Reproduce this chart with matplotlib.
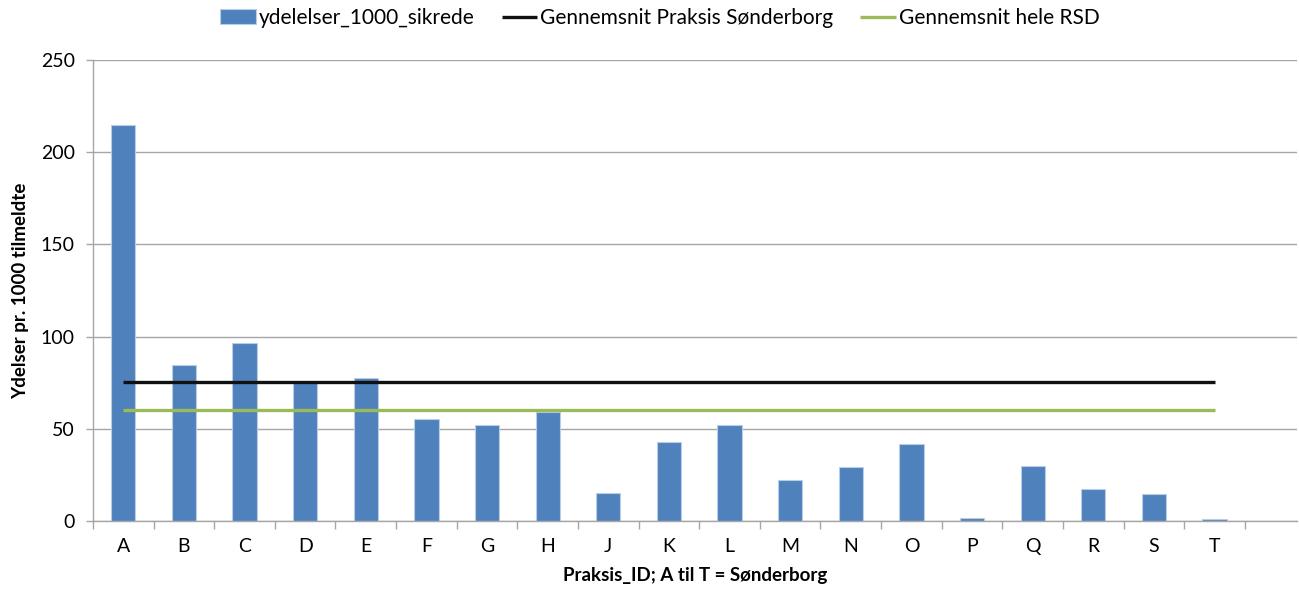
import numpy as np
import matplotlib.pyplot as plt

# data
praksis = ["A", "B", "C", "D", "E", "F", "G", "H", "J", "K",
           "L", "M", "N", "O", "P", "Q", "R", "S", "T"]
ydelser = [214.7, 84.6, 96.5, 75.2, 77.7, 55.3, 52.2, 59.3, 15.4, 43.0,
           51.9, 22.2, 29.5, 41.6, 1.6, 30.0, 17.5, 14.5, 0.9]
snit_sonderborg = 75.4
snit_rsd = 60.2
yticks = [0, 50, 100, 150, 200, 250]

plt.rcParams['font.family'] = ['Lato', 'DejaVu Sans']

fig = plt.figure(figsize=(12.99, 5.89), dpi=100)
ax = fig.add_axes([93/1299, 1-521/589, (1297-93)/1299, (521-60)/589])

x = np.arange(len(praksis))
gray = "#a6a6a6"

b = ax.bar(x, ydelser, width=0.4, color="#4f81bd", edgecolor="#b9cde5",
           linewidth=0.8, label="ydelelser_1000_sikrede", zorder=2)
l1 = ax.hlines(snit_sonderborg, x[0], x[-1], color="#111111", linewidth=2.4,
               label="Gennemsnit Praksis Sønderborg", zorder=3)
l2 = ax.hlines(snit_rsd, x[0], x[-1], color="#9bbb59", linewidth=2.4,
               label="Gennemsnit hele RSD", zorder=3)

ax.set_xlim(-0.5, 19.36)
ax.set_ylim(0, 250)
ax.set_yticks(yticks)
ax.yaxis.grid(True, color=gray, linewidth=1)
ax.set_axisbelow(True)

ax.set_xticks(x)
ax.set_xticklabels(praksis, fontsize=14)
ax.set_xticks(np.arange(-0.5, len(praksis)), minor=True)
ax.tick_params(axis="x", which="major", length=0, pad=12)
ax.tick_params(axis="x", which="minor", length=6, color=gray, width=1)
ax.tick_params(axis="y", length=5, color=gray, width=1, labelsize=14, pad=8)

for s in ["top", "right"]:
    ax.spines[s].set_visible(False)
for s in ["left", "bottom"]:
    ax.spines[s].set_color(gray)
    ax.spines[s].set_linewidth(1)

ax.set_ylabel("Ydelser pr. 1000 tilmeldte", fontsize=13.5, fontweight="bold")
ax.yaxis.set_label_coords(-0.053, 0.5)
ax.set_xlabel("Praksis_ID; A til T = Sønderborg", fontsize=13.5, fontweight="bold")
ax.xaxis.set_label_coords(0.5, -0.1)

fig.legend([b, l1, l2], ["ydelelser_1000_sikrede", "Gennemsnit Praksis Sønderborg",
                         "Gennemsnit hele RSD"],
           loc="center", bbox_to_anchor=(660/1299, 1-18/589), ncol=3,
           frameon=False, fontsize=15, handlelength=1.7, handletextpad=0.15,
           columnspacing=1.3)

fig.savefig("out.png", dpi=100)
